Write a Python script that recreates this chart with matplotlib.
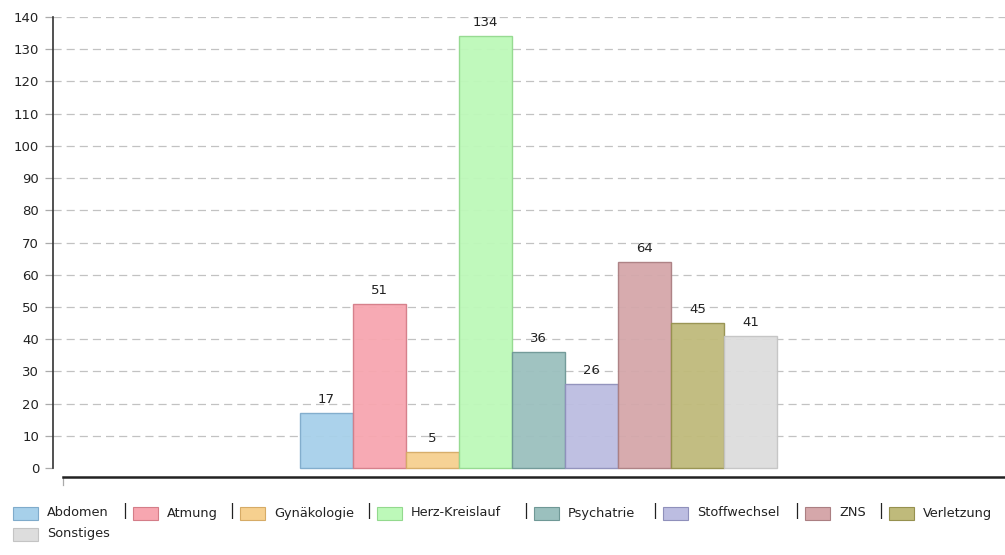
import matplotlib
matplotlib.use("Agg")
import matplotlib.pyplot as plt
from matplotlib.patches import Rectangle

categories = ["Abdomen", "Atmung", "Gynäkologie", "Herz-Kreislauf", "Psychatrie",
              "Stoffwechsel", "ZNS", "Verletzung", "Sonstiges"]
values = [17, 51, 5, 134, 36, 26, 64, 45, 41]
face_colors = ["#a7d0ea", "#f7a6b0", "#f6d08f", "#bdf9b9", "#9bc0be",
               "#bcbde1", "#d5a7aa", "#bfba7b", "#dddddd"]
edge_colors = ["#7fabcb", "#d47d88", "#d6ab66", "#93d98e", "#6f9896",
               "#8f90bb", "#ab7f82", "#96914f", "#c4c4c4"]
yticks = list(range(0, 141, 10))

W, H = 1005, 555
fig = plt.figure(figsize=(W / 100, H / 100), dpi=100)
plt.rcParams['font.family'] = ['DejaVu Sans']

ax_left, ax_right = 53, 1005
ax_top, ax_bottom = 17, 477
ax = fig.add_axes([ax_left / W, 1 - ax_bottom / H, (ax_right - ax_left) / W, (ax_bottom - ax_top) / H])

px_per_unit = (468 - 17) / 140.0
ymin = -(477 - 468) / px_per_unit
ax.set_ylim(ymin, 140)

bar_px = 53.0
first_left_px = 300
x0 = -0.5 - (first_left_px - ax_left) / bar_px
x1 = x0 + (ax_right - ax_left) / bar_px
ax.set_xlim(x0, x1)

xs = list(range(len(categories)))
bars = ax.bar(xs, values, width=1.0, color=face_colors, edgecolor=edge_colors,
              linewidth=1.0, zorder=3, alpha=0.95)

for x, v in zip(xs, values):
    ax.annotate(str(v), (x, v), xytext=(0, 5), textcoords="offset points",
                ha="center", va="bottom", fontsize=9.5, color="#222222", zorder=4)

# gridlines
for t in yticks[1:]:
    ax.axhline(t, color="#c2c2c2", linewidth=0.9, linestyle=(0, (6.5, 4)), zorder=1)

for s in ["top", "right"]:
    ax.spines[s].set_visible(False)
ax.spines["left"].set_bounds(0, 140)
ax.spines["left"].set_color("#333333")
ax.spines["left"].set_linewidth(1.2)
ax.spines["bottom"].set_bounds(x0 + 10 / bar_px, x1)
ax.spines["bottom"].set_color("#222222")
ax.spines["bottom"].set_linewidth(1.8)

ax.set_yticks(yticks)
ax.set_yticklabels([str(t) for t in yticks], fontsize=9.5, color="#222222")
ax.tick_params(axis="y", length=6, color="#aaaaaa", width=0.9, pad=4)
ax.set_xticks([])
# small tick at start of bottom axis
ax.plot([x0 + 10 / bar_px] * 2, [ymin, ymin - 8 / px_per_unit], color="#aaaaaa",
        linewidth=0.9, clip_on=False)

# Legend drawn manually (positions in pixels)
patch_x = [13, 133, 240, 377, 534, 663, 805, 889, 13]
patch_row = [0, 0, 0, 0, 0, 0, 0, 0, 1]
sep_x = [125, 232, 369, 526, 655, 797, 881]
row_y = [513, 534]
sw, sh = 25, 13
for i, (cat, fc, ec) in enumerate(zip(categories, face_colors, edge_colors)):
    x = patch_x[i]
    cy = row_y[patch_row[i]]
    fig.patches.append(Rectangle((x / W, 1 - (cy + sh / 2) / H), sw / W, sh / H,
                                 facecolor=fc, edgecolor=ec, linewidth=0.8,
                                 transform=fig.transFigure, figure=fig))
    fig.text((x + sw + 9) / W, 1 - cy / H, cat, fontsize=9.3, color="#222222",
             ha="left", va="center")
for sx in sep_x:
    fig.text(sx / W, 1 - (row_y[0] - 2) / H, "|", fontsize=11, color="#222222",
             ha="center", va="center")

fig.savefig("out.png", dpi=100)
